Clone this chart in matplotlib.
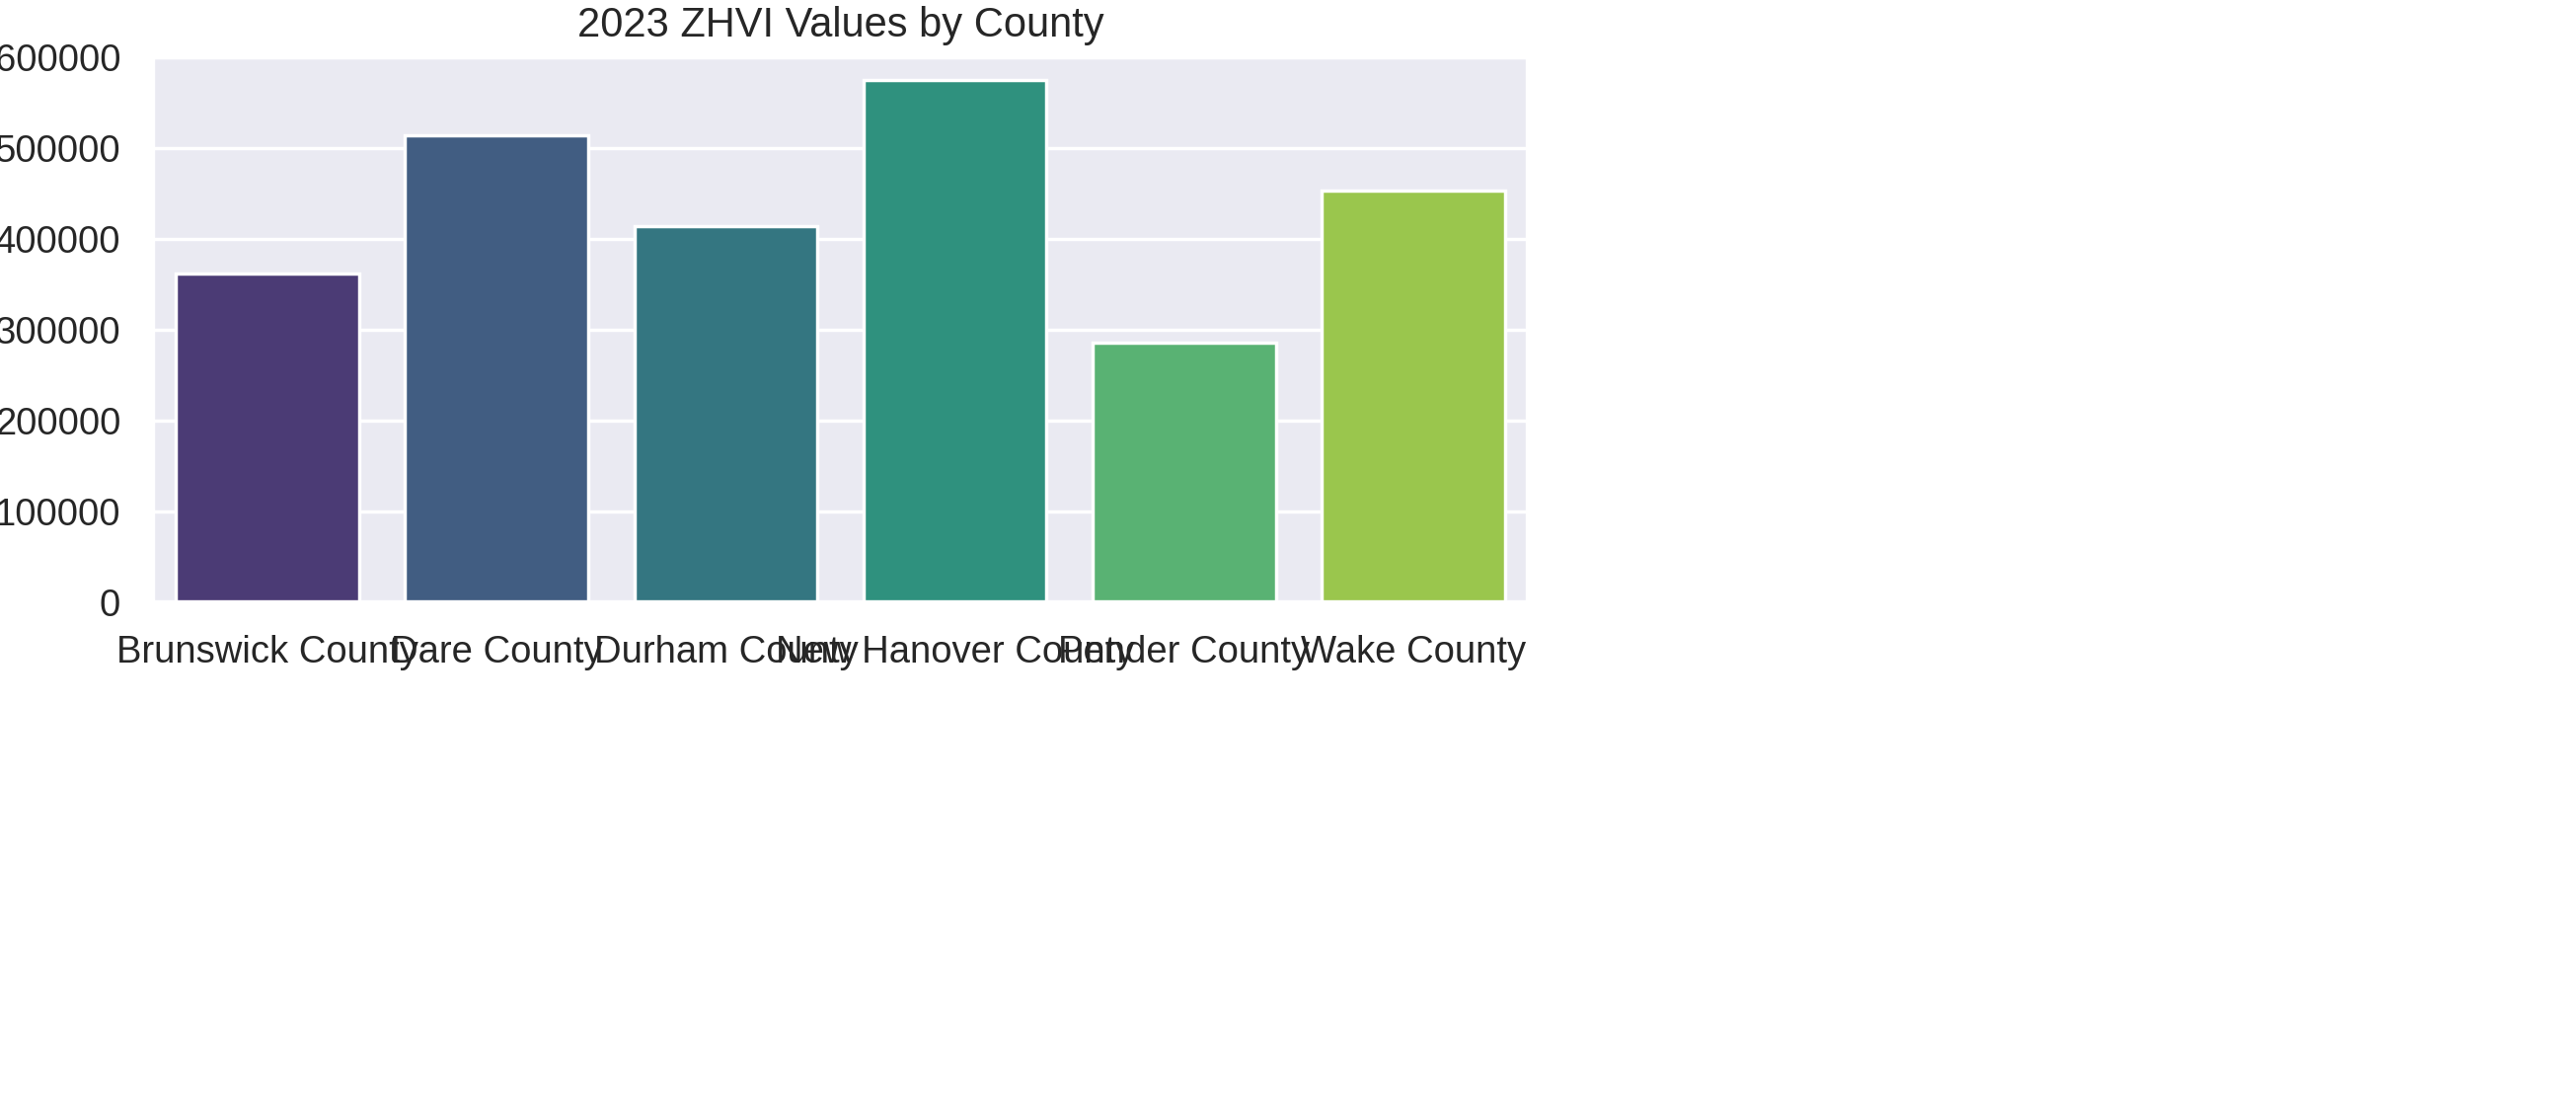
import matplotlib
matplotlib.use("Agg")
import matplotlib.pyplot as plt
import seaborn as sns

counties = ["Brunswick County", "Dare County", "Durham County",
            "New Hanover County", "Pender County", "Wake County"]
zhvi_2023 = [362000, 514000, 414000, 575000, 286000, 453000]

sns.set_theme(style="darkgrid")
plt.rcParams['font.family'] = ['Arial', 'Liberation Sans', 'DejaVu Sans']
fig = plt.figure(figsize=(10.44, 4.452), dpi=250)
ax = fig.add_axes([155 / 2610, 1 - 610 / 1113, (1548 - 155) / 2610, (610 - 58) / 1113])
sns.barplot(x=counties, y=zhvi_2023, hue=counties, palette="viridis", legend=False, ax=ax)
ax.set_ylim(0, 600000)
ax.set_title("2023 ZHVI Values by County")
ax.set_ylabel("ZHVI Value ($)")
ax.set_xlabel("")
fig.savefig("out.png", dpi=250)
